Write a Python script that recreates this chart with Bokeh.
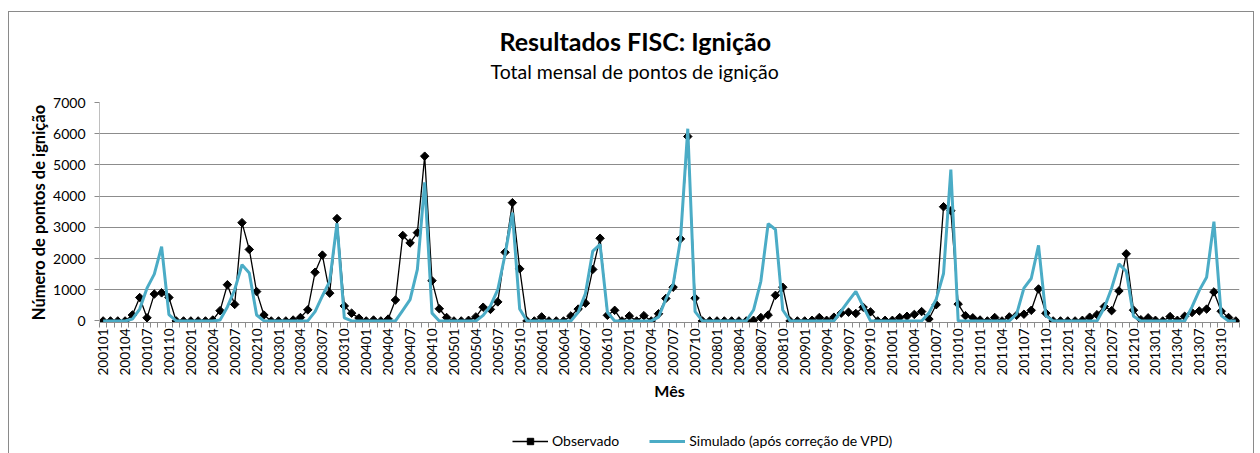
import math
from bokeh.plotting import figure
from bokeh.layouts import column
from bokeh.models import (ColumnDataSource, FixedTicker, Range1d, Title, Legend, LegendItem)
from bokeh.embed import file_html
from bokeh.resources import INLINE

# ---------------- data ----------------
years = list(range(2001, 2014))
months = [f"{y}{m:02d}" for y in years for m in range(1, 13)]
tick_labels = months[::3]

observado = [
    0, 0, 0, 0, 190, 750, 100, 860, 900, 750, 0, 0,                  # 2001
    0, 0, 0, 30, 330, 1160, 530, 3150, 2290, 940, 190, 0,            # 2002
    0, 0, 30, 110, 355, 1560, 2110, 890, 3280, 480, 250, 90,         # 2003
    0, 30, 0, 60, 670, 2740, 2500, 2830, 5280, 1290, 390, 110,       # 2004
    0, 0, 20, 130, 440, 370, 610, 2200, 3790, 1670, 0, 0,            # 2005
    130, 0, 0, 0, 160, 380, 570, 1650, 2650, 180, 340, 0,            # 2006
    160, 0, 170, 0, 230, 720, 1080, 2630, 5910, 730, 0, 0,           # 2007
    0, 0, 0, 0, 0, 20, 110, 190, 820, 1080, 0, 0,                    # 2008
    0, 20, 110, 20, 120, 250, 280, 240, 440, 290, 0, 20,             # 2009
    20, 110, 150, 210, 300, 60, 520, 3660, 3530, 540, 170, 100,      # 2010
    30, 0, 110, 0, 130, 180, 215, 340, 1025, 250, 0, 0,              # 2011
    0, 0, 20, 120, 200, 460, 330, 960, 2150, 345, 40, 100,           # 2012
    20, 0, 140, 20, 150, 270, 320, 380, 930, 310, 110, 0,            # 2013
]

simulado = [
    0, 0, 0, 0, 60, 380, 1050, 1500, 2380, 200, 0, 0,       # 2001
    0, 0, 0, 0, 30, 450, 1000, 1800, 1540, 190, 0, 0,       # 2002
    0, 0, 0, 0, 0, 300, 800, 1270, 3130, 100, 0, 0,         # 2003
    0, 0, 0, 0, 0, 340, 680, 1650, 4440, 250, 0, 0,         # 2004
    0, 0, 0, 0, 180, 480, 1000, 2130, 3470, 380, 0, 0,      # 2005
    0, 0, 0, 0, 0, 280, 880, 2240, 2450, 280, 0, 0,         # 2006
    0, 0, 0, 0, 120, 700, 1170, 2600, 6160, 300, 0, 0,      # 2007
    0, 0, 0, 0, 0, 350, 1270, 3120, 2930, 350, 0, 0,        # 2008
    0, 0, 0, 0, 0, 320, 640, 950, 470, 0, 0, 0,             # 2009
    0, 0, 0, 0, 0, 250, 700, 1520, 4850, 0, 0, 0,           # 2010
    0, 0, 0, 0, 0, 220, 1050, 1360, 2420, 170, 0, 0,        # 2011
    0, 0, 0, 0, 0, 420, 1050, 1830, 1590, 150, 0, 0,        # 2012
    0, 0, 0, 0, 0, 450, 980, 1400, 3180, 170, 0, 0,         # 2013
]

y_ticks = [0, 1000, 2000, 3000, 4000, 5000, 6000, 7000]

title_text = "Resultados FISC: Ignição"
subtitle_text = "Total mensal de pontos de ignição"
y_title = "Número de pontos de ignição"
x_title = "Mês"
series_names = ["Observado", "Simulado (após correção de VPD)"]

# ---------------- main figure ----------------
FONT = "Lato"
OBS_STYLE = dict(line_color="black", line_width=1.3)
MK_STYLE = dict(marker="square", angle=math.pi / 4, size=6, fill_color="black", line_color="black")
SIM_STYLE = dict(line_color="#4BACC6", line_width=3)

idx = list(range(len(months)))
src = ColumnDataSource(dict(x=idx, obs=observado, sim=simulado, mes=months))

p = figure(frame_width=1140, frame_height=220,
           x_range=Range1d(-0.5, len(months) - 0.5),
           y_range=Range1d(-50, 7000),
           output_backend="svg", toolbar_location=None,
           min_border_left=90, min_border_right=13,
           min_border_top=90, min_border_bottom=0)
p.outline_line_color = None
p.background_fill_color = "white"
p.border_fill_color = "white"

# grid
p.xgrid.visible = False
p.ygrid.ticker = FixedTicker(ticks=y_ticks[1:])
p.ygrid.grid_line_color = "#8c8c8c"
p.ygrid.grid_line_width = 1

# y axis
ya = p.yaxis[0]
ya.ticker = FixedTicker(ticks=y_ticks)
ya.axis_line_color = "#bfbfbf"
ya.major_tick_line_color = "#8c8c8c"
ya.major_tick_out = 5
ya.major_tick_in = 0
ya.minor_tick_line_color = None
ya.major_label_standoff = 9
ya.major_label_text_font = FONT
ya.major_label_text_font_size = "14px"
ya.major_label_text_color = "#000000"
ya.axis_label = y_title
ya.axis_label_text_font = FONT
ya.axis_label_text_font_style = "bold"
ya.axis_label_text_font_size = "16.5px"
ya.axis_label_text_color = "#000000"
ya.axis_label_standoff = 1

# x axis
xa = p.xaxis[0]
xa.ticker = FixedTicker(ticks=idx[::3], minor_ticks=[i - 0.5 for i in range(len(months) + 1)])
xa.major_label_overrides = {i: months[i] for i in idx[::3]}
xa.major_label_orientation = math.pi / 2
xa.axis_line_color = "#8c8c8c"
xa.major_tick_line_color = None
xa.major_tick_out = 4
xa.minor_tick_line_color = "#8c8c8c"
xa.minor_tick_out = 5
xa.minor_tick_in = 0
xa.major_label_standoff = 1
xa.major_label_text_font = FONT
xa.major_label_text_font_size = "13.5px"
xa.major_label_text_color = "#000000"
xa.axis_label = x_title
xa.axis_label_text_font = FONT
xa.axis_label_text_font_style = "bold"
xa.axis_label_text_font_size = "16px"
xa.axis_label_text_color = "#000000"
xa.axis_label_standoff = 3

# series
p.line("x", "obs", source=src, **OBS_STYLE)
p.scatter("x", "obs", source=src, **MK_STYLE)
p.line("x", "sim", source=src, **SIM_STYLE)

# titles (first added sits closest to the plot)
p.add_layout(Title(text=subtitle_text, align="left", offset=391, standoff=40,
                   text_font=FONT, text_font_size="19.5px", text_font_style="normal",
                   text_color="black"), "above")
p.add_layout(Title(text=title_text, align="left", offset=400, standoff=-36,
                   text_font=FONT, text_font_size="25px", text_font_style="bold",
                   text_color="black"), "above")

# ---------------- legend strip (same series, same styles) ----------------
leg = figure(width=1244, height=52, x_range=Range1d(-10, -9), y_range=Range1d(-10, -9),
             x_axis_type=None, y_axis_type=None,
             output_backend="svg", toolbar_location=None,
             min_border_left=0, min_border_right=0, min_border_top=0, min_border_bottom=0)
leg.outline_line_color = None
leg.background_fill_color = "white"
leg.border_fill_color = "white"
lo = leg.line("x", "obs", source=src, **OBS_STYLE)
so = leg.scatter("x", "obs", source=src, **MK_STYLE)
ls = leg.line("x", "sim", source=src, **SIM_STYLE)

legend = Legend(items=[LegendItem(label=series_names[0], renderers=[lo, so]),
                       LegendItem(label=series_names[1], renderers=[ls])],
                orientation="horizontal", location=(413, 6),
                glyph_width=36, glyph_height=16, label_standoff=4, spacing=30,
                padding=0, margin=0, border_line_color=None,
                background_fill_alpha=0,
                label_text_font=FONT, label_text_font_size="14px",
                label_text_color="black")
leg.add_layout(legend)

layout = column(p, leg)
layout.styles = {"border": "1px solid #8a8a8a", "margin-top": "11px", "margin-left": "8px"}

open("out.html", "w").write(file_html(layout, INLINE))
